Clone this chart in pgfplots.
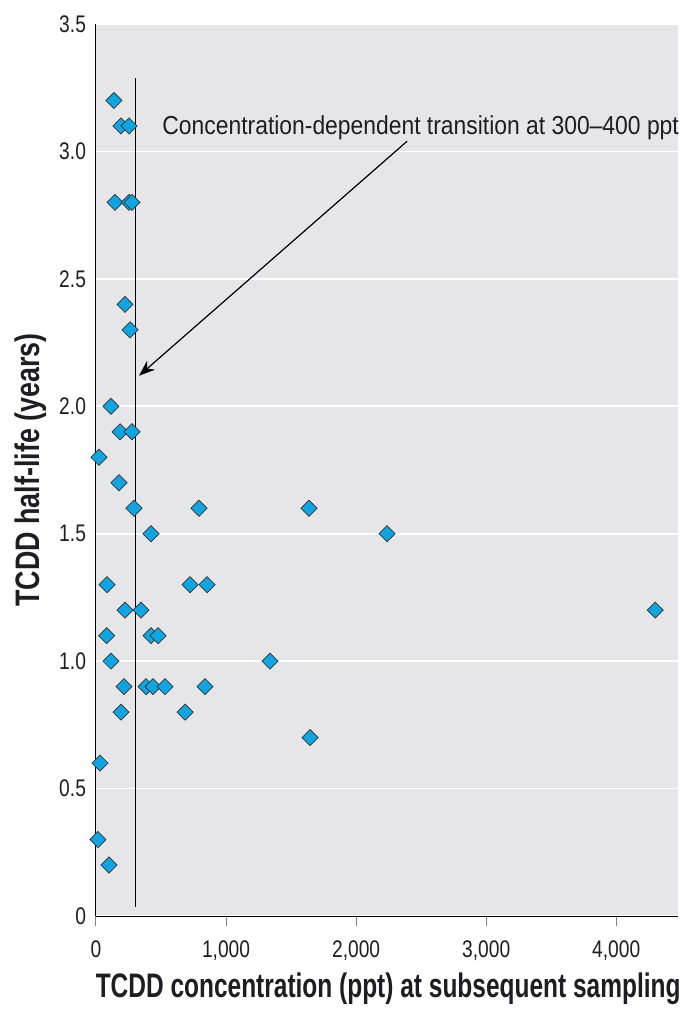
\documentclass[border=0pt]{standalone}
\usepackage{fontspec}
\setmainfont{Liberation Sans}[FakeStretch=0.88]
\newfontfamily\tickfont{Liberation Sans}[FakeStretch=0.8]
\newfontfamily\xlabfont{Liberation Sans}[FakeStretch=0.72]
\newfontfamily\ylabfont{Liberation Sans}[FakeStretch=0.79]
\usepackage{pgfplots}
\pgfplotsset{compat=1.18}
\usetikzlibrary{arrows.meta}

\definecolor{plotbg}{HTML}{E6E6E8}
\definecolor{marker}{HTML}{10A5E0}
\definecolor{txt}{HTML}{1E1E22}

\begin{document}
\begin{tikzpicture}
  \begin{axis}[
      scale only axis,
      width=291pt, height=446pt,
      xmin=0, xmax=4475,
      ymin=0, ymax=3.5,
      axis x line*=bottom,
      axis y line*=left,
      axis line style={line width=0.5pt, black},
      axis background/.style={fill=plotbg},
      clip=false,
      xtick={0,1000,2000,3000,4000},
      xticklabels={0,{1,000},{2,000},{3,000},{4,000}},
      ytick={0,0.5,1,1.5,2,2.5,3,3.5},
      yticklabels={0,0.5,1.0,1.5,2.0,2.5,3.0,3.5},
      tick align=outside,
      major tick length=5pt,
      xtick style={gray, line width=0.5pt},
      ytick style={draw=none},
      ymajorgrids=true,
      grid style={white, line width=0.8pt},
      /pgf/number format/assume math mode=true,
      ticklabel style={font=\tickfont\fontsize{12}{14}\selectfont, text=txt},
      xticklabel style={yshift=-4pt},
      yticklabel style={xshift=3.5pt},
      xlabel={TCDD concentration (ppt) at subsequent sampling},
      ylabel={TCDD half-life (years)},
      every axis x label/.style={at={(axis description cs:0.502,-0.0908)}, anchor=base,
        font=\xlabfont\bfseries\fontsize{17}{20}\selectfont, text=txt},
      every axis y label/.style={at={(axis description cs:-0.113,0.5)}, anchor=center, rotate=90,
        font=\ylabfont\bfseries\fontsize{17}{20}\selectfont, text=txt},
    ]

    % transition line at 300 ppt
    \addplot[black, line width=0.5pt] coordinates {(300,0.035) (300,3.29)};

    % half-life vs concentration
    \addplot[only marks, mark=square*,
      mark options={rotate=45, fill=marker, draw=black!80, line width=0.35pt},
      mark size=2.85pt] coordinates {
      (138,3.2) (192,3.1) (254,3.1) (146,2.8) (254,2.8) (277,2.8)
      (223,2.4) (262,2.3) (115,2.0) (185,1.9) (277,1.9) (23,1.8)
      (177,1.7) (292,1.6) (792,1.6) (1638,1.6) (423,1.5) (2238,1.5)
      (85,1.3) (723,1.3) (854,1.3) (223,1.2) (346,1.2) (4300,1.2)
      (82,1.1) (423,1.1) (477,1.1) (115,1.0) (1338,1.0)
      (215,0.9) (385,0.9) (438,0.9) (531,0.9) (838,0.9)
      (192,0.8) (685,0.8) (1646,0.7) (31,0.6) (15,0.3) (100,0.2)
    };

    \draw[-{Stealth[length=8pt, width=6pt]}, line width=0.6pt, black]
      (axis cs:2392,3.04) -- (axis cs:331,2.12);
    \node[anchor=base west, inner sep=0pt, text=txt, font=\fontsize{13}{15}\selectfont]
      at (axis cs:508,3.065) {Concentration-dependent transition at 300--400 ppt};
  \end{axis}
  \pgfresetboundingbox
  \path[use as bounding box] (-48pt,-48.5pt) rectangle (298pt,458pt);
\end{tikzpicture}
\end{document}
